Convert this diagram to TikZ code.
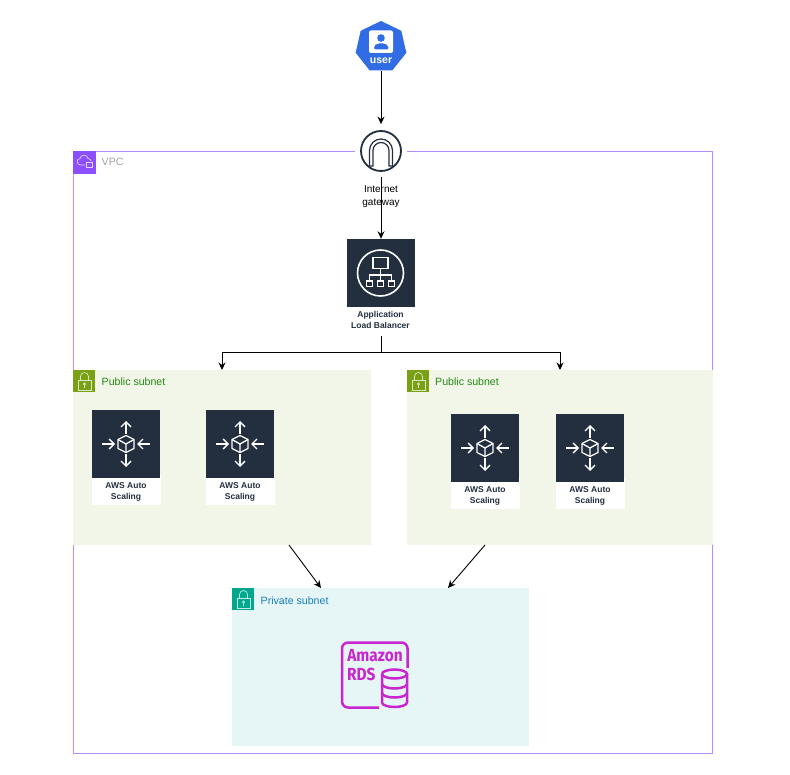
\documentclass[tikz,border=0pt]{standalone}
\usepackage{fontspec}
\setmainfont{Liberation Sans}
\newfontfamily\rdsfont{Fira Sans}
\usetikzlibrary{calc}
\usetikzlibrary{arrows.meta}
\usetikzlibrary{shapes.geometric}
\definecolor{awsdark}{HTML}{232F3E}
\definecolor{vpcpurple}{HTML}{8C4FFF}
\definecolor{vpctext}{HTML}{9AA3A8}
\definecolor{pubgreen}{HTML}{7AA116}
\definecolor{pubfill}{HTML}{F2F6E8}
\definecolor{pubtext}{HTML}{248814}
\definecolor{privteal}{HTML}{01A88D}
\definecolor{privfill}{HTML}{E6F6F7}
\definecolor{privtext}{HTML}{147EBA}
\definecolor{userblue}{HTML}{326CE5}
\definecolor{rdspink}{HTML}{C925D1}
\tikzset{
  link/.style={draw=black,line width=0.9pt,-{Stealth[length=7.5pt,width=7pt]}},
  grouplabel/.style={anchor=west,inner sep=0pt,font=\fontsize{10.6}{12}\selectfont},
  iconlabel/.style={align=center,inner sep=0pt,text=awsdark,font=\bfseries\fontsize{8.5}{11}\selectfont},
  darksquare/.style={fill=awsdark,draw=none,minimum size=68pt,inner sep=0pt},
  iconline/.style={draw=white,line width=1.3pt},
  lockline/.style={draw=white,draw opacity=0.75,line width=0.7pt},
  rdstext/.style={inner sep=0pt,text=rdspink,font=\rdsfont\bfseries\fontsize{17.5}{18}\selectfont}
}
\newcommand{\lockicon}[2]{% top left corner of the badge
  \draw[lockline] (#1+5,#2+10.5) rectangle (#1+18,#2+20);
  \draw[lockline] (#1+7.5,#2+10.5) -- (#1+7.5,#2+6.5) arc[start angle=180,end angle=360,radius=4] -- (#1+15.5,#2+10.5);
  \draw[lockline] (#1+11.5,#2+14) circle (1.2) (#1+11.5,#2+15.2) -- (#1+11.5,#2+18);
}
\begin{document}
\begin{tikzpicture}[x=1pt,y=-1pt]
\useasboundingbox (0,0) rectangle (790,775);

% groups
\draw[vpcpurple!65,line width=1.2pt] (73.5,151.5) rectangle (712.5,753.5);
\fill[white] (355,146) rectangle (407,157);
\fill[vpcpurple] (73,151) rectangle (96,174);
\draw[lockline] (85,165) -- (81,165) .. controls (76,165) and (76,159) .. (80,158.5)
  .. controls (81,154) and (87,154) .. (88,158.5) .. controls (90,159) and (91,160) .. (91,161);
\draw[lockline] (86,167.5) rectangle (92,162);
\node[grouplabel,text=vpctext] (vpclabel) at (101.5,162) {VPC};

\fill[pubfill] (73,370) rectangle (371,545);
\fill[pubfill] (407,370) rectangle (713,545);
\fill[privfill] (232,588) rectangle (529,746);
\fill[pubgreen] (73,370) rectangle (95,392);
\fill[pubgreen] (407,370) rectangle (429,392);
\fill[privteal] (232,588) rectangle (254,610);
\lockicon{73}{370}
\lockicon{407}{370}
\lockicon{232}{588}
\node[grouplabel,text=pubtext] (publabelA) at (101.5,381.5) {Public subnet};
\node[grouplabel,text=pubtext] (publabelB) at (435,381.5) {Public subnet};
\node[grouplabel,text=privtext] (privlabel) at (260.5,600.5) {Private subnet};

% user
\node[regular polygon,regular polygon sides=7,minimum size=52pt,inner sep=0pt,fill=userblue] (user) at (381,47) {};
\fill[white,rounded corners=2pt] (369,30.5) rectangle (393,53);
\fill[userblue] (381,38) circle (3.8);
\fill[userblue,rounded corners=2pt] (374,49.5) -- (374,46) -- (377,43.5) -- (385,43.5) -- (388.5,46) -- (388.5,49.5) -- cycle;
\node[inner sep=0pt,text=white,font=\bfseries\fontsize{10.5}{12}\selectfont] (userlabel) at (381,61) {user};

% internet gateway
\node[circle,draw=awsdark,line width=1.8pt,fill=white,minimum size=40pt,inner sep=0pt] (igw) at (381,151) {};
\draw[awsdark,line width=1.2pt] (369.5,166) -- (369.5,150.5) arc[start angle=180,end angle=360,radius=11.5] -- (392.5,166) -- (389,166)
  -- (389,150.5) arc[start angle=360,end angle=180,radius=8] -- (373,166) -- cycle;
\node[iconlabel,text=black,font=\fontsize{10}{12.8}\selectfont] (igwlabel) at (381,196.5) {Internet\\gateway};

% load balancer
\node[darksquare] (alb) at (380.5,273) {};
\draw[iconline,line width=1.6pt] (alb.center) circle (23);
\draw[iconline] (373,257.5) rectangle (388,268.5);
\draw[iconline] (380.5,268.5) -- (380.5,281) (369.5,281) -- (369.5,275) -- (391.5,275) -- (391.5,281);
\foreach \x in {369.5,380.5,391.5}
  \draw[iconline] (\x-3,281) rectangle (\x+3,286.5);
\node[iconlabel] (alblabel) at (380.5,320) {Application\\Load Balancer};

% auto scaling
\foreach \nm/\x/\y in {asgA/126/444,asgB/240/444,asgC/485/448,asgD/590/448} {
  \fill[white] (\x-34,\y+30) rectangle (\x+35,\y+61);
  \node[darksquare] (\nm) at (\x,\y) {};
  \node[iconlabel] (\nm label) at (\x,\y+47.5) {AWS Auto\\Scaling};
  \draw[iconline,line join=round] (\x,\y-8.5) -- (\x+8,\y-4.5) -- (\x+8,\y+4.5) -- (\x,\y+8.5) -- (\x-8,\y+4.5) -- (\x-8,\y-4.5) -- cycle;
  \draw[iconline,line join=round] (\x-8,\y-4.5) -- (\x,\y) -- (\x+8,\y-4.5) (\x,\y) -- (\x,\y+8.5);
  \foreach \ax/\ay/\bx/\by in {0/-10/0/-23,0/10/0/23,-24/0/-11/0,24/0/11/0}
    \draw[iconline,-{Straight Barb[length=5pt,width=10pt]}] (\x+\ax,\y+\ay) -- (\x+\bx,\y+\by);
}

% amazon rds
\draw[rdspink,line width=2.5pt,rounded corners=6pt] (379,707.5) -- (342,707.5) -- (342,642.5) -- (407.5,642.5) -- (407.5,668);
\node[rdstext] (rdsA) at (375,656) {\scalebox{0.88}[1]{Amazon}};
\node[rdstext,anchor=west] (rdsB) at (347,674) {\scalebox{0.88}[1]{RDS}};
\fill[privfill] (380,666.5) rectangle (405.5,670);
\draw[rdspink,line width=2.5pt,fill=privfill] (382,674) arc[start angle=180,end angle=540,x radius=12.5,y radius=4.5];
\draw[rdspink,line width=2.5pt] (382,674) -- (382,702.5) arc[start angle=180,end angle=0,x radius=12.5,y radius=4.5] -- (407,674);
\draw[rdspink,line width=2.5pt] (382,684) arc[start angle=180,end angle=0,x radius=12.5,y radius=4.5];
\draw[rdspink,line width=2.5pt] (382,693) arc[start angle=180,end angle=0,x radius=12.5,y radius=4.5];

% connectors
\coordinate (albout) at (381,336);
\coordinate (split) at (381,352.5);
\coordinate (pubtopA) at (222,370);
\coordinate (pubtopB) at (560,370);
\coordinate (puboutA) at (289,545);
\coordinate (puboutB) at (485,545);
\coordinate (privinA) at (321,588);
\coordinate (privinB) at (448,588);
\draw[link,shorten >=6pt] (user) -- (igw);
\draw[link,shorten <=5pt] (igw.south) -- (alb.north -| igw);
\draw[link] (albout) -- (split) -| (pubtopA);
\draw[link] (albout) -- (split) -| (pubtopB);
\draw[link] (puboutA) -- (privinA);
\draw[link] (puboutB) -- (privinB);
\end{tikzpicture}
\end{document}
